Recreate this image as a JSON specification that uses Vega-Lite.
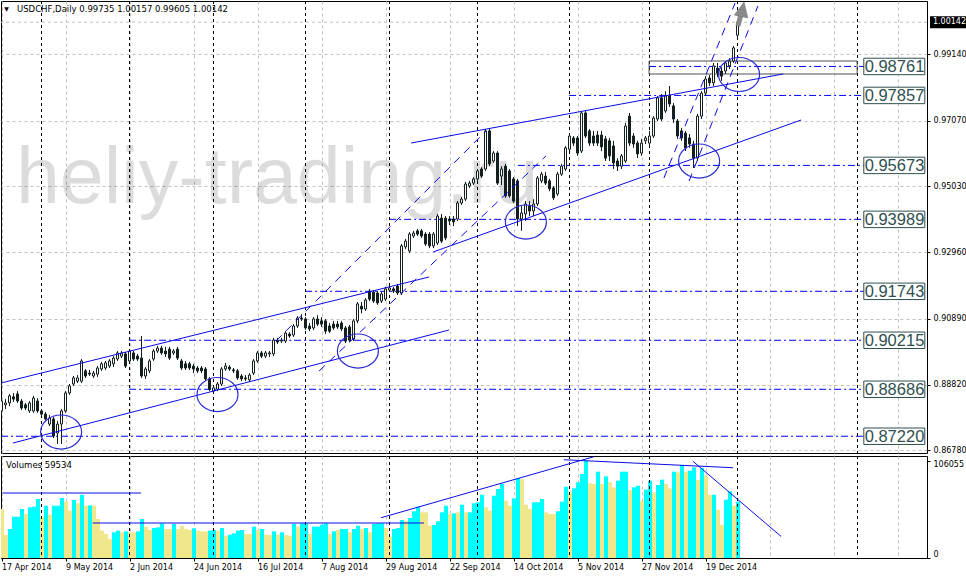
{
"$schema": "https://vega.github.io/schema/vega-lite/v6.json",
"padding": 0,
"background": "white",
"spacing": 3,
"bounds": "flush",
"config": {"view": {"stroke": "#000000", "strokeWidth": 1}, "scale": {"continuousPadding": 0}, "axis": {"labelFont": "DejaVu Sans", "labelFontSize": 8, "labelColor": "#000000", "tickColor": "#000000"}},
"datasets": {
"c": [
{"i":0,"o":0.8801,"h":0.8844,"l":0.8788,"c":0.8832},{"i":1,"o":0.8820,"h":0.8838,"l":0.8807,"c":0.8826},{"i":2,"o":0.8826,"h":0.8854,"l":0.8816,"c":0.8848},{"i":3,"o":0.8845,"h":0.8857,"l":0.8829,"c":0.8838},{"i":4,"o":0.8854,"h":0.8863,"l":0.8826,"c":0.8832},{"i":5,"o":0.8832,"h":0.8838,"l":0.8804,"c":0.8810},{"i":6,"o":0.8820,"h":0.8826,"l":0.8804,"c":0.8810},{"i":7,"o":0.8801,"h":0.8832,"l":0.8795,"c":0.8826},{"i":8,"o":0.8801,"h":0.8848,"l":0.8795,"c":0.8841},{"i":9,"o":0.8832,"h":0.8841,"l":0.8795,"c":0.8801},
{"i":10,"o":0.8801,"h":0.8807,"l":0.8785,"c":0.8791},{"i":11,"o":0.8791,"h":0.8798,"l":0.8770,"c":0.8776},{"i":12,"o":0.8760,"h":0.8788,"l":0.8754,"c":0.8779},{"i":13,"o":0.8776,"h":0.8782,"l":0.8716,"c":0.8723},{"i":14,"o":0.8732,"h":0.8770,"l":0.8698,"c":0.8760},{"i":15,"o":0.8760,"h":0.8807,"l":0.8698,"c":0.8801},{"i":16,"o":0.8801,"h":0.8863,"l":0.8795,"c":0.8857},{"i":17,"o":0.8857,"h":0.8885,"l":0.8851,"c":0.8879},{"i":18,"o":0.8885,"h":0.8910,"l":0.8879,"c":0.8904},{"i":19,"o":0.8894,"h":0.8913,"l":0.8888,"c":0.8904},
{"i":20,"o":0.8894,"h":0.8963,"l":0.8888,"c":0.8957},{"i":21,"o":0.8926,"h":0.8932,"l":0.8904,"c":0.8910},{"i":22,"o":0.8919,"h":0.8929,"l":0.8910,"c":0.8916},{"i":23,"o":0.8910,"h":0.8926,"l":0.8904,"c":0.8919},{"i":24,"o":0.8916,"h":0.8941,"l":0.8907,"c":0.8935},{"i":25,"o":0.8932,"h":0.8954,"l":0.8926,"c":0.8948},{"i":26,"o":0.8935,"h":0.8957,"l":0.8929,"c":0.8951},{"i":27,"o":0.8941,"h":0.8963,"l":0.8935,"c":0.8957},{"i":28,"o":0.8948,"h":0.8972,"l":0.8938,"c":0.8966},{"i":29,"o":0.8963,"h":0.8988,"l":0.8957,"c":0.8982},
{"i":30,"o":0.8972,"h":0.8988,"l":0.8966,"c":0.8982},{"i":31,"o":0.8979,"h":0.8985,"l":0.8935,"c":0.8941},{"i":32,"o":0.8957,"h":0.8994,"l":0.8951,"c":0.8988},{"i":33,"o":0.8982,"h":0.8988,"l":0.8957,"c":0.8963},{"i":34,"o":0.8972,"h":0.8979,"l":0.8957,"c":0.8963},{"i":35,"o":0.8966,"h":0.9035,"l":0.8904,"c":0.8910},{"i":36,"o":0.8910,"h":0.8938,"l":0.8901,"c":0.8932},{"i":37,"o":0.8926,"h":0.8963,"l":0.8919,"c":0.8957},{"i":38,"o":0.8963,"h":0.8994,"l":0.8957,"c":0.8988},{"i":39,"o":0.8988,"h":0.9004,"l":0.8982,"c":0.8997},
{"i":40,"o":0.8997,"h":0.9004,"l":0.8976,"c":0.8982},{"i":41,"o":0.8988,"h":0.9001,"l":0.8969,"c":0.8979},{"i":42,"o":0.8994,"h":0.9001,"l":0.8960,"c":0.8966},{"i":43,"o":0.8982,"h":0.8994,"l":0.8976,"c":0.8988},{"i":44,"o":0.8994,"h":0.9001,"l":0.8960,"c":0.8966},{"i":45,"o":0.8957,"h":0.8963,"l":0.8929,"c":0.8935},{"i":46,"o":0.8948,"h":0.8957,"l":0.8929,"c":0.8935},{"i":47,"o":0.8948,"h":0.8954,"l":0.8929,"c":0.8935},{"i":48,"o":0.8941,"h":0.8948,"l":0.8919,"c":0.8932},{"i":49,"o":0.8935,"h":0.8941,"l":0.8919,"c":0.8926},
{"i":50,"o":0.8935,"h":0.8941,"l":0.8919,"c":0.8926},{"i":51,"o":0.8932,"h":0.8938,"l":0.8894,"c":0.8901},{"i":52,"o":0.8901,"h":0.8907,"l":0.8863,"c":0.8869},{"i":53,"o":0.8863,"h":0.8879,"l":0.8857,"c":0.8873},{"i":54,"o":0.8869,"h":0.8891,"l":0.8863,"c":0.8885},{"i":55,"o":0.8885,"h":0.8938,"l":0.8879,"c":0.8932},{"i":56,"o":0.8932,"h":0.8951,"l":0.8926,"c":0.8941},{"i":57,"o":0.8938,"h":0.8944,"l":0.8926,"c":0.8932},{"i":58,"o":0.8929,"h":0.8935,"l":0.8919,"c":0.8926},{"i":59,"o":0.8926,"h":0.8932,"l":0.8898,"c":0.8904},
{"i":60,"o":0.8910,"h":0.8916,"l":0.8894,"c":0.8901},{"i":61,"o":0.8904,"h":0.8913,"l":0.8894,"c":0.8901},{"i":62,"o":0.8898,"h":0.8919,"l":0.8891,"c":0.8913},{"i":63,"o":0.8919,"h":0.8963,"l":0.8913,"c":0.8957},{"i":64,"o":0.8957,"h":0.8988,"l":0.8951,"c":0.8982},{"i":65,"o":0.8982,"h":0.8988,"l":0.8966,"c":0.8972},{"i":66,"o":0.8972,"h":0.8988,"l":0.8966,"c":0.8982},{"i":67,"o":0.8979,"h":0.8988,"l":0.8969,"c":0.8982},{"i":68,"o":0.8979,"h":0.9029,"l":0.8972,"c":0.9022},{"i":69,"o":0.9022,"h":0.9029,"l":0.9010,"c":0.9016},
{"i":70,"o":0.9019,"h":0.9029,"l":0.9013,"c":0.9022},{"i":71,"o":0.9019,"h":0.9050,"l":0.9013,"c":0.9044},{"i":72,"o":0.9041,"h":0.9047,"l":0.9029,"c":0.9035},{"i":73,"o":0.9038,"h":0.9072,"l":0.9032,"c":0.9066},{"i":74,"o":0.9066,"h":0.9097,"l":0.9060,"c":0.9091},{"i":75,"o":0.9091,"h":0.9103,"l":0.9082,"c":0.9088},{"i":76,"o":0.9088,"h":0.9094,"l":0.9054,"c":0.9060},{"i":77,"o":0.9066,"h":0.9075,"l":0.9050,"c":0.9057},{"i":78,"o":0.9060,"h":0.9094,"l":0.9054,"c":0.9088},{"i":79,"o":0.9088,"h":0.9100,"l":0.9066,"c":0.9072},
{"i":80,"o":0.9082,"h":0.9094,"l":0.9063,"c":0.9072},{"i":81,"o":0.9082,"h":0.9088,"l":0.9041,"c":0.9050},{"i":82,"o":0.9066,"h":0.9075,"l":0.9044,"c":0.9050},{"i":83,"o":0.9072,"h":0.9082,"l":0.9054,"c":0.9060},{"i":84,"o":0.9072,"h":0.9082,"l":0.9057,"c":0.9063},{"i":85,"o":0.9075,"h":0.9082,"l":0.9050,"c":0.9057},{"i":86,"o":0.9060,"h":0.9066,"l":0.9013,"c":0.9019},{"i":87,"o":0.9063,"h":0.9069,"l":0.9016,"c":0.9022},{"i":88,"o":0.9025,"h":0.9088,"l":0.9019,"c":0.9082},{"i":89,"o":0.9082,"h":0.9141,"l":0.9075,"c":0.9135},
{"i":90,"o":0.9128,"h":0.9141,"l":0.9106,"c":0.9119},{"i":91,"o":0.9119,"h":0.9153,"l":0.9113,"c":0.9147},{"i":92,"o":0.9175,"h":0.9182,"l":0.9144,"c":0.9150},{"i":93,"o":0.9172,"h":0.9178,"l":0.9138,"c":0.9144},{"i":94,"o":0.9169,"h":0.9175,"l":0.9132,"c":0.9138},{"i":95,"o":0.9144,"h":0.9172,"l":0.9138,"c":0.9166},{"i":96,"o":0.9150,"h":0.9188,"l":0.9144,"c":0.9182},{"i":97,"o":0.9178,"h":0.9191,"l":0.9172,"c":0.9185},{"i":98,"o":0.9182,"h":0.9188,"l":0.9169,"c":0.9175},{"i":99,"o":0.9191,"h":0.9197,"l":0.9163,"c":0.9169},
{"i":100,"o":0.9169,"h":0.9322,"l":0.9163,"c":0.9316},{"i":101,"o":0.9313,"h":0.9338,"l":0.9306,"c":0.9331},{"i":102,"o":0.9300,"h":0.9359,"l":0.9294,"c":0.9353},{"i":103,"o":0.9347,"h":0.9363,"l":0.9341,"c":0.9356},{"i":104,"o":0.9363,"h":0.9369,"l":0.9347,"c":0.9353},{"i":105,"o":0.9363,"h":0.9369,"l":0.9341,"c":0.9347},{"i":106,"o":0.9353,"h":0.9359,"l":0.9316,"c":0.9322},{"i":107,"o":0.9353,"h":0.9359,"l":0.9309,"c":0.9316},{"i":108,"o":0.9316,"h":0.9359,"l":0.9309,"c":0.9353},{"i":109,"o":0.9325,"h":0.9416,"l":0.9319,"c":0.9409},
{"i":110,"o":0.9403,"h":0.9416,"l":0.9325,"c":0.9331},{"i":111,"o":0.9403,"h":0.9409,"l":0.9334,"c":0.9341},{"i":112,"o":0.9400,"h":0.9409,"l":0.9381,"c":0.9394},{"i":113,"o":0.9400,"h":0.9409,"l":0.9378,"c":0.9391},{"i":114,"o":0.9400,"h":0.9456,"l":0.9394,"c":0.9450},{"i":115,"o":0.9450,"h":0.9469,"l":0.9444,"c":0.9462},{"i":116,"o":0.9462,"h":0.9516,"l":0.9456,"c":0.9509},{"i":117,"o":0.9503,"h":0.9519,"l":0.9497,"c":0.9512},{"i":118,"o":0.9512,"h":0.9531,"l":0.9506,"c":0.9525},{"i":119,"o":0.9525,"h":0.9556,"l":0.9519,"c":0.9550},
{"i":120,"o":0.9556,"h":0.9562,"l":0.9528,"c":0.9534},{"i":121,"o":0.9556,"h":0.9681,"l":0.9550,"c":0.9675},{"i":122,"o":0.9675,"h":0.9684,"l":0.9565,"c":0.9572},{"i":123,"o":0.9581,"h":0.9612,"l":0.9575,"c":0.9606},{"i":124,"o":0.9606,"h":0.9612,"l":0.9506,"c":0.9512},{"i":125,"o":0.9534,"h":0.9565,"l":0.9506,"c":0.9556},{"i":126,"o":0.9565,"h":0.9572,"l":0.9466,"c":0.9472},{"i":127,"o":0.9550,"h":0.9556,"l":0.9466,"c":0.9472},{"i":128,"o":0.9525,"h":0.9531,"l":0.9450,"c":0.9456},{"i":129,"o":0.9519,"h":0.9525,"l":0.9378,"c":0.9400},
{"i":130,"o":0.9400,"h":0.9441,"l":0.9363,"c":0.9419},{"i":131,"o":0.9416,"h":0.9456,"l":0.9394,"c":0.9447},{"i":132,"o":0.9441,"h":0.9456,"l":0.9409,"c":0.9425},{"i":133,"o":0.9425,"h":0.9462,"l":0.9409,"c":0.9447},{"i":134,"o":0.9447,"h":0.9534,"l":0.9441,"c":0.9528},{"i":135,"o":0.9519,"h":0.9547,"l":0.9512,"c":0.9540},{"i":136,"o":0.9534,"h":0.9547,"l":0.9506,"c":0.9512},{"i":137,"o":0.9519,"h":0.9525,"l":0.9487,"c":0.9494},{"i":138,"o":0.9497,"h":0.9503,"l":0.9459,"c":0.9466},{"i":139,"o":0.9478,"h":0.9547,"l":0.9472,"c":0.9540},
{"i":140,"o":0.9540,"h":0.9572,"l":0.9534,"c":0.9565},{"i":141,"o":0.9556,"h":0.9628,"l":0.9550,"c":0.9622},{"i":142,"o":0.9618,"h":0.9665,"l":0.9612,"c":0.9659},{"i":143,"o":0.9653,"h":0.9659,"l":0.9628,"c":0.9637},{"i":144,"o":0.9653,"h":0.9659,"l":0.9597,"c":0.9606},{"i":145,"o":0.9612,"h":0.9737,"l":0.9606,"c":0.9731},{"i":146,"o":0.9731,"h":0.9737,"l":0.9653,"c":0.9659},{"i":147,"o":0.9675,"h":0.9681,"l":0.9628,"c":0.9637},{"i":148,"o":0.9659,"h":0.9675,"l":0.9628,"c":0.9637},{"i":149,"o":0.9662,"h":0.9675,"l":0.9628,"c":0.9637},
{"i":150,"o":0.9662,"h":0.9675,"l":0.9612,"c":0.9625},{"i":151,"o":0.9650,"h":0.9659,"l":0.9581,"c":0.9590},{"i":152,"o":0.9644,"h":0.9653,"l":0.9581,"c":0.9597},{"i":153,"o":0.9628,"h":0.9644,"l":0.9556,"c":0.9575},{"i":154,"o":0.9581,"h":0.9590,"l":0.9550,"c":0.9565},{"i":155,"o":0.9565,"h":0.9603,"l":0.9556,"c":0.9597},{"i":156,"o":0.9581,"h":0.9700,"l":0.9575,"c":0.9690},{"i":157,"o":0.9721,"h":0.9731,"l":0.9628,"c":0.9637},{"i":158,"o":0.9659,"h":0.9668,"l":0.9622,"c":0.9634},{"i":159,"o":0.9637,"h":0.9644,"l":0.9590,"c":0.9603},
{"i":160,"o":0.9606,"h":0.9650,"l":0.9597,"c":0.9637},{"i":161,"o":0.9644,"h":0.9659,"l":0.9634,"c":0.9653},{"i":162,"o":0.9637,"h":0.9675,"l":0.9628,"c":0.9659},{"i":163,"o":0.9659,"h":0.9721,"l":0.9653,"c":0.9715},{"i":164,"o":0.9712,"h":0.9784,"l":0.9706,"c":0.9778},{"i":165,"o":0.9778,"h":0.9790,"l":0.9706,"c":0.9712},{"i":166,"o":0.9737,"h":0.9799,"l":0.9731,"c":0.9784},{"i":167,"o":0.9784,"h":0.9815,"l":0.9750,"c":0.9759},{"i":168,"o":0.9753,"h":0.9762,"l":0.9700,"c":0.9712},{"i":169,"o":0.9706,"h":0.9712,"l":0.9650,"c":0.9659},
{"i":170,"o":0.9675,"h":0.9684,"l":0.9644,"c":0.9653},{"i":171,"o":0.9668,"h":0.9675,"l":0.9612,"c":0.9622},{"i":172,"o":0.9653,"h":0.9665,"l":0.9622,"c":0.9634},{"i":173,"o":0.9634,"h":0.9644,"l":0.9559,"c":0.9590},{"i":174,"o":0.9590,"h":0.9728,"l":0.9581,"c":0.9721},{"i":175,"o":0.9721,"h":0.9799,"l":0.9712,"c":0.9793},{"i":176,"o":0.9793,"h":0.9846,"l":0.9784,"c":0.9837},{"i":177,"o":0.9840,"h":0.9849,"l":0.9815,"c":0.9825},{"i":178,"o":0.9825,"h":0.9887,"l":0.9815,"c":0.9878},{"i":179,"o":0.9871,"h":0.9887,"l":0.9843,"c":0.9856},
{"i":180,"o":0.9862,"h":0.9874,"l":0.9831,"c":0.9846},{"i":181,"o":0.9862,"h":0.9893,"l":0.9853,"c":0.9887},{"i":182,"o":0.9878,"h":0.9902,"l":0.9868,"c":0.9893},{"i":183,"o":0.9893,"h":0.9940,"l":0.9887,"c":0.9934},{"i":184,"o":0.99735,"h":1.00157,"l":0.99605,"c":1.00142}
],
"v": [
{"i":0,"v":53400,"u":0},{"i":1,"v":25100,"u":0},{"i":2,"v":31600,"u":1},{"i":3,"v":45000,"u":1},{"i":4,"v":45000,"u":1},{"i":5,"v":53400,"u":1},{"i":6,"v":48000,"u":0},{"i":7,"v":55200,"u":1},{"i":8,"v":55900,"u":1},{"i":9,"v":64300,"u":1},
{"i":10,"v":45000,"u":0},{"i":11,"v":57000,"u":1},{"i":12,"v":47200,"u":0},{"i":13,"v":57000,"u":1},{"i":14,"v":57000,"u":1},{"i":15,"v":65400,"u":1},{"i":16,"v":61400,"u":0},{"i":17,"v":51600,"u":0},{"i":18,"v":63200,"u":1},{"i":19,"v":59600,"u":0},
{"i":20,"v":69000,"u":1},{"i":21,"v":57000,"u":0},{"i":22,"v":57300,"u":1},{"i":23,"v":57000,"u":0},{"i":24,"v":42500,"u":0},{"i":25,"v":29800,"u":0},{"i":26,"v":26200,"u":0},{"i":27,"v":20700,"u":0},{"i":28,"v":28000,"u":1},{"i":29,"v":29800,"u":1},
{"i":30,"v":28000,"u":0},{"i":31,"v":29100,"u":1},{"i":32,"v":28000,"u":0},{"i":33,"v":28000,"u":0},{"i":34,"v":29100,"u":1},{"i":35,"v":42500,"u":1},{"i":36,"v":34200,"u":0},{"i":37,"v":30500,"u":0},{"i":38,"v":32700,"u":1},{"i":39,"v":33400,"u":1},
{"i":40,"v":37800,"u":1},{"i":41,"v":31600,"u":0},{"i":42,"v":31600,"u":0},{"i":43,"v":37100,"u":1},{"i":44,"v":31600,"u":0},{"i":45,"v":35200,"u":0},{"i":46,"v":31600,"u":0},{"i":47,"v":30500,"u":0},{"i":48,"v":32300,"u":1},{"i":49,"v":29800,"u":0},
{"i":50,"v":29100,"u":0},{"i":51,"v":29100,"u":0},{"i":52,"v":29800,"u":1},{"i":53,"v":30500,"u":1},{"i":54,"v":29800,"u":0},{"i":55,"v":32700,"u":1},{"i":56,"v":24300,"u":0},{"i":57,"v":25400,"u":1},{"i":58,"v":26900,"u":1},{"i":59,"v":29800,"u":1},
{"i":60,"v":30500,"u":1},{"i":61,"v":26200,"u":0},{"i":62,"v":26200,"u":0},{"i":63,"v":34200,"u":1},{"i":64,"v":30500,"u":0},{"i":65,"v":31600,"u":1},{"i":66,"v":25400,"u":0},{"i":67,"v":25100,"u":0},{"i":68,"v":29100,"u":1},{"i":69,"v":25400,"u":0},
{"i":70,"v":28000,"u":1},{"i":71,"v":25100,"u":0},{"i":72,"v":24300,"u":0},{"i":73,"v":37100,"u":1},{"i":74,"v":34200,"u":0},{"i":75,"v":37800,"u":1},{"i":76,"v":37800,"u":1},{"i":77,"v":26200,"u":0},{"i":78,"v":34200,"u":1},{"i":79,"v":34200,"u":1},
{"i":80,"v":36300,"u":1},{"i":81,"v":37800,"u":1},{"i":82,"v":26200,"u":0},{"i":83,"v":29100,"u":1},{"i":84,"v":30500,"u":0},{"i":85,"v":31600,"u":1},{"i":86,"v":31600,"u":1},{"i":87,"v":28000,"u":0},{"i":88,"v":31600,"u":1},{"i":89,"v":35200,"u":1},
{"i":90,"v":31600,"u":0},{"i":91,"v":32700,"u":1},{"i":92,"v":28000,"u":0},{"i":93,"v":37100,"u":1},{"i":94,"v":37800,"u":1},{"i":95,"v":37800,"u":1},{"i":96,"v":32700,"u":0},{"i":97,"v":23300,"u":0},{"i":98,"v":31600,"u":1},{"i":99,"v":32700,"u":1},
{"i":100,"v":41400,"u":1},{"i":101,"v":40700,"u":0},{"i":102,"v":43600,"u":1},{"i":103,"v":50900,"u":1},{"i":104,"v":55900,"u":1},{"i":105,"v":49800,"u":0},{"i":106,"v":49800,"u":0},{"i":107,"v":35200,"u":0},{"i":108,"v":36000,"u":1},{"i":109,"v":40000,"u":1},
{"i":110,"v":49800,"u":1},{"i":111,"v":57000,"u":1},{"i":112,"v":48000,"u":0},{"i":113,"v":48700,"u":1},{"i":114,"v":49800,"u":0},{"i":115,"v":58100,"u":1},{"i":116,"v":49800,"u":0},{"i":117,"v":49800,"u":1},{"i":118,"v":59600,"u":1},{"i":119,"v":60700,"u":1},
{"i":120,"v":69000,"u":1},{"i":121,"v":55200,"u":0},{"i":122,"v":51600,"u":0},{"i":123,"v":67900,"u":1},{"i":124,"v":75200,"u":1},{"i":125,"v":80700,"u":1},{"i":126,"v":62500,"u":0},{"i":127,"v":57000,"u":0},{"i":128,"v":65000,"u":1},{"i":129,"v":87200,"u":1},
{"i":130,"v":86000,"u":0},{"i":131,"v":58100,"u":0},{"i":132,"v":53400,"u":0},{"i":133,"v":60700,"u":1},{"i":134,"v":60700,"u":1},{"i":135,"v":64300,"u":1},{"i":136,"v":49800,"u":0},{"i":137,"v":48000,"u":0},{"i":138,"v":48000,"u":0},{"i":139,"v":50900,"u":1},
{"i":140,"v":61400,"u":1},{"i":141,"v":77700,"u":1},{"i":142,"v":72700,"u":0},{"i":143,"v":75900,"u":1},{"i":144,"v":82500,"u":1},{"i":145,"v":91600,"u":1},{"i":146,"v":106055,"u":1},{"i":147,"v":81400,"u":0},{"i":148,"v":80700,"u":0},{"i":149,"v":94100,"u":1},
{"i":150,"v":80700,"u":0},{"i":151,"v":89000,"u":1},{"i":152,"v":82500,"u":0},{"i":153,"v":77000,"u":0},{"i":154,"v":84300,"u":1},{"i":155,"v":94100,"u":1},{"i":156,"v":94100,"u":1},{"i":157,"v":74100,"u":0},{"i":158,"v":77000,"u":1},{"i":159,"v":78800,"u":1},
{"i":160,"v":62500,"u":0},{"i":161,"v":74500,"u":1},{"i":162,"v":84300,"u":1},{"i":163,"v":71600,"u":0},{"i":164,"v":79600,"u":1},{"i":165,"v":85400,"u":1},{"i":166,"v":80700,"u":0},{"i":167,"v":75900,"u":0},{"i":168,"v":94100,"u":1},{"i":169,"v":93400,"u":0},
{"i":170,"v":101400,"u":1},{"i":171,"v":94100,"u":0},{"i":172,"v":95200,"u":1},{"i":173,"v":98800,"u":1},{"i":174,"v":85000,"u":0},{"i":175,"v":98100,"u":1},{"i":176,"v":89700,"u":0},{"i":177,"v":68700,"u":0},{"i":178,"v":69000,"u":1},{"i":179,"v":52700,"u":0},
{"i":180,"v":36000,"u":0},{"i":181,"v":63600,"u":1},{"i":182,"v":72700,"u":1},{"i":183,"v":57000,"u":0},{"i":184,"v":61400,"u":1}
],
"sep": [{"i":10},{"i":32},{"i":53},{"i":76},{"i":97},{"i":119},{"i":142},{"i":162},{"i":184},{"i":214}],
"lv": [
{"p":0.98761,"s":161.9,"lab":"0.98761"},{"p":0.97857,"s":141.9,"lab":"0.97857"},{"p":0.95673,"s":129.1,"lab":"0.95673"},{"p":0.93989,"s":96.9,"lab":"0.93989"},
{"p":0.91743,"s":75.9,"lab":"0.91743"},{"p":0.90215,"s":31.9,"lab":"0.90215"},{"p":0.88686,"s":31.9,"lab":"0.88686"},{"p":0.8722,"s":-0.125,"lab":"0.87220"}
],
"tl": [
{"a":2.875,"pa":0.87009,"b":111.9,"pb":0.90536,"k":"s"},
{"a":-0.125,"pa":0.88881,"b":106.9,"pb":0.9219,"k":"s"},
{"a":107.9,"pa":0.9297,"b":199.9,"pb":0.9709,"k":"s"},
{"a":102.4,"pa":0.96372,"b":195.4,"pb":0.98526,"k":"s"},
{"a":68.6,"pa":0.90192,"b":121.1,"pb":0.96746,"k":"d"},
{"a":79.4,"pa":0.89256,"b":136.1,"pb":0.95966,"k":"d"},
{"a":165.6,"pa":0.9528,"b":183.4,"pb":1.0074,"k":"d"},
{"a":171.9,"pa":0.95186,"b":189.1,"pb":1.00648,"k":"d"}
],
"el": [{"x":14.9,"p":0.87352},{"x":54,"p":0.88522},{"x":89.1,"p":0.8988},{"x":131.1,"p":0.93906},{"x":174.4,"p":0.9581},{"x":184.4,"p":0.9851}],
"vl": [
{"a":0.3,"va":70850,"b":34.9,"vb":70850},
{"a":22.8,"va":38150,"b":105.6,"vb":38150},
{"a":94.9,"va":43900,"b":148.1,"vb":110400},
{"a":140.6,"va":107100,"b":182.9,"vb":98400},
{"a":172.9,"va":105300,"b":194.9,"vb":23500}
]
},
"vconcat": [
{
"width": 926,
"height": 452,
"layer": [
{
"data": {"values": [{"t": "heliy-trading.ru"}]},
"mark": {"type": "text", "font": "Liberation Sans", "fontSize": 79, "align": "left", "baseline": "alphabetic", "color": "#000000", "opacity": 0.135},
"encoding": {
"x": {"datum": 3.6, "type": "quantitative", "title": null, "scale": {"domain": [-0.125, 231.375], "nice": false, "zero": false, "padding": 0},
"axis": {"orient": "bottom", "title": null, "values": [0,8,16,24,32,40,48,56,64,72,80,88,96,104,112,120,128,136,144,152,160,168,176,184,192,200,208,216,224], "labels": false, "ticks": false, "domain": false, "grid": true, "gridColor": "#c0c0c0", "gridDash": [3,3], "minExtent": 0, "maxExtent": 0}},
"y": {"datum": 0.945, "type": "quantitative", "title": null, "scale": {"domain": [0.86697, 1.00804], "nice": false, "zero": false, "padding": 0},
"axis": {"orient": "right", "title": null, "values": [0.9914,0.9812,0.9707,0.9605,0.9503,0.9398,0.9296,0.9194,0.9089,0.8987,0.8882,0.878,0.8678], "format": ".5f", "grid": true, "gridColor": "#c0c0c0", "gridDash": [3,3], "domain": false, "tickSize": 3, "labelPadding": 3, "labelBaseline": "middle"}},
"text": {"field": "t"}
}
},
{
"data": {"values": [{"p": 1.00142}]},
"mark": {"type": "rule", "color": "#c0c0c0", "strokeDash": [3,3]},
"encoding": {"y": {"field": "p", "type": "quantitative", "title": null, "scale": {"domain": [0.86697, 1.00804], "nice": false, "zero": false, "padding": 0}}}
},
{
"data": {"name": "lv"},
"mark": {"type": "rule", "color": "#0000ff", "strokeWidth": 1, "strokeDash": [7,3,2,3], "clip": true},
"encoding": {
"x": {"field": "s", "type": "quantitative", "title": null, "scale": {"domain": [-0.125, 231.375], "nice": false, "zero": false, "padding": 0}},
"x2": {"datum": 215.6},
"y": {"field": "p", "type": "quantitative", "title": null, "scale": {"domain": [0.86697, 1.00804], "nice": false, "zero": false, "padding": 0}}
}
},
{
"data": {"name": "sep"},
"mark": {"type": "rule", "color": "#000000", "strokeDash": [3,3]},
"encoding": {"x": {"field": "i", "type": "quantitative", "title": null, "scale": {"domain": [-0.125, 231.375], "nice": false, "zero": false, "padding": 0}}}
},
{
"data": {"values": [{"a": 161.9, "b": 213.9, "lo": 0.98526, "hi": 0.98931}]},
"mark": {"type": "rect", "fillOpacity": 0, "stroke": "#505050", "strokeWidth": 1},
"encoding": {
"x": {"field": "a", "type": "quantitative", "title": null, "scale": {"domain": [-0.125, 231.375], "nice": false, "zero": false, "padding": 0}},
"x2": {"field": "b"},
"y": {"field": "lo", "type": "quantitative", "title": null, "scale": {"domain": [0.86697, 1.00804], "nice": false, "zero": false, "padding": 0}},
"y2": {"field": "hi"}
}
},
{
"data": {"name": "c"},
"mark": {"type": "rule", "color": "#142020", "strokeWidth": 1, "clip": true},
"encoding": {
"x": {"field": "i", "type": "quantitative", "title": null, "scale": {"domain": [-0.125, 231.375], "nice": false, "zero": false, "padding": 0}},
"y": {"field": "l", "type": "quantitative", "title": null, "scale": {"domain": [0.86697, 1.00804], "nice": false, "zero": false, "padding": 0}},
"y2": {"field": "h"}
}
},
{
"data": {"name": "c"},
"mark": {"type": "bar", "width": 2, "stroke": "#142020", "strokeWidth": 1, "clip": true},
"encoding": {
"x": {"field": "i", "type": "quantitative", "title": null, "scale": {"domain": [-0.125, 231.375], "nice": false, "zero": false, "padding": 0}},
"y": {"field": "o", "type": "quantitative", "title": null, "scale": {"domain": [0.86697, 1.00804], "nice": false, "zero": false, "padding": 0}},
"y2": {"field": "c"},
"fill": {"condition": {"test": "datum.c >= datum.o", "value": "#ffffff"}, "value": "#142020"}
}
},
{
"data": {"name": "tl"},
"transform": [{"filter": "datum.k == 's'"}],
"mark": {"type": "rule", "color": "#0a0ae6", "strokeWidth": 1, "clip": true},
"encoding": {
"x": {"field": "a", "type": "quantitative", "title": null, "scale": {"domain": [-0.125, 231.375], "nice": false, "zero": false, "padding": 0}},
"x2": {"field": "b"},
"y": {"field": "pa", "type": "quantitative", "title": null, "scale": {"domain": [0.86697, 1.00804], "nice": false, "zero": false, "padding": 0}},
"y2": {"field": "pb"}
}
},
{
"data": {"name": "tl"},
"transform": [{"filter": "datum.k == 'd'"}],
"mark": {"type": "rule", "color": "#0a0ae6", "strokeWidth": 1, "strokeDash": [8,6], "clip": true},
"encoding": {
"x": {"field": "a", "type": "quantitative", "title": null, "scale": {"domain": [-0.125, 231.375], "nice": false, "zero": false, "padding": 0}},
"x2": {"field": "b"},
"y": {"field": "pa", "type": "quantitative", "title": null, "scale": {"domain": [0.86697, 1.00804], "nice": false, "zero": false, "padding": 0}},
"y2": {"field": "pb"}
}
},
{
"data": {"name": "el"},
"mark": {"type": "point", "shape": "M-1,0A1,0.83,0,1,0,1,0A1,0.83,0,1,0,-1,0Z", "size": 1681, "filled": false, "stroke": "#2a2ad6", "strokeWidth": 1.2, "opacity": 1},
"encoding": {
"x": {"field": "x", "type": "quantitative", "title": null, "scale": {"domain": [-0.125, 231.375], "nice": false, "zero": false, "padding": 0}},
"y": {"field": "p", "type": "quantitative", "title": null, "scale": {"domain": [0.86697, 1.00804], "nice": false, "zero": false, "padding": 0}}
}
},
{
"data": {"values": [{"a": 184.1, "pa": 1.0002, "b": 184.9, "pb": 1.004}]},
"mark": {"type": "rule", "color": "#8a8a8a", "strokeWidth": 5},
"encoding": {
"x": {"field": "a", "type": "quantitative", "title": null, "scale": {"domain": [-0.125, 231.375], "nice": false, "zero": false, "padding": 0}},
"x2": {"field": "b"},
"y": {"field": "pa", "type": "quantitative", "title": null, "scale": {"domain": [0.86697, 1.00804], "nice": false, "zero": false, "padding": 0}},
"y2": {"field": "pb"}
}
},
{
"data": {"values": [{"t": "up"}]},
"mark": {"type": "point", "shape": "M0,-1L0.8,0.7L-0.8,0.7Z", "size": 300, "angle": 12, "filled": true, "fill": "#8a8a8a", "stroke": "#777777", "strokeWidth": 0.5, "opacity": 1},
"encoding": {
"x": {"datum": 185.2, "type": "quantitative", "title": null, "scale": {"domain": [-0.125, 231.375], "nice": false, "zero": false, "padding": 0}},
"y": {"datum": 1.00507, "type": "quantitative", "title": null, "scale": {"domain": [0.86697, 1.00804], "nice": false, "zero": false, "padding": 0}}
}
},
{
"data": {"name": "lv"},
"mark": {"type": "point", "shape": "M-1,-0.27L1,-0.27L1,0.27L-1,0.27Z", "size": 3721, "filled": true, "fill": "#ffffff", "stroke": "#2f4f4f", "strokeWidth": 1, "opacity": 1},
"encoding": {
"x": {"datum": 223.2, "type": "quantitative", "title": null, "scale": {"domain": [-0.125, 231.375], "nice": false, "zero": false, "padding": 0}},
"y": {"field": "p", "type": "quantitative", "title": null, "scale": {"domain": [0.86697, 1.00804], "nice": false, "zero": false, "padding": 0}}
}
},
{
"data": {"name": "lv"},
"mark": {"type": "text", "font": "Liberation Sans", "fontSize": 16.5, "align": "center", "baseline": "middle", "dy": 1, "color": "#2f4f4f"},
"encoding": {
"x": {"datum": 223.25, "type": "quantitative", "title": null, "scale": {"domain": [-0.125, 231.375], "nice": false, "zero": false, "padding": 0}},
"y": {"field": "p", "type": "quantitative", "title": null, "scale": {"domain": [0.86697, 1.00804], "nice": false, "zero": false, "padding": 0}},
"text": {"field": "lab"}
}
},
{
"data": {"values": [{"t": "USDCHF,Daily  0.99735 1.00157 0.99605 1.00142"}]},
"mark": {"type": "text", "font": "DejaVu Sans", "fontSize": 8.5, "align": "left", "baseline": "middle", "color": "#000000"},
"encoding": {
"x": {"datum": 3.875, "type": "quantitative", "title": null, "scale": {"domain": [-0.125, 231.375], "nice": false, "zero": false, "padding": 0}},
"y": {"datum": 1.00554, "type": "quantitative", "title": null, "scale": {"domain": [0.86697, 1.00804], "nice": false, "zero": false, "padding": 0}},
"text": {"field": "t"}
}
},
{
"data": {"values": [{"t": "▼"}]},
"mark": {"type": "text", "font": "DejaVu Sans", "fontSize": 6, "align": "center", "baseline": "middle", "color": "#000000"},
"encoding": {
"x": {"datum": 1.25, "type": "quantitative", "title": null, "scale": {"domain": [-0.125, 231.375], "nice": false, "zero": false, "padding": 0}},
"y": {"datum": 1.00554, "type": "quantitative", "title": null, "scale": {"domain": [0.86697, 1.00804], "nice": false, "zero": false, "padding": 0}},
"text": {"field": "t"}
}
},
{
"data": {"values": [{"p": 1.00142, "t": "1.00142"}]},
"mark": {"type": "point", "shape": "M-1,-0.32L1,-0.32L1,0.32L-1,0.32Z", "size": 1369, "filled": true, "fill": "#000000", "opacity": 1},
"encoding": {
"x": {"datum": 236.75, "type": "quantitative", "title": null, "scale": {"domain": [-0.125, 231.375], "nice": false, "zero": false, "padding": 0}},
"y": {"field": "p", "type": "quantitative", "title": null, "scale": {"domain": [0.86697, 1.00804], "nice": false, "zero": false, "padding": 0}}
}
},
{
"data": {"values": [{"p": 1.00142, "t": "1.00142"}]},
"mark": {"type": "text", "font": "DejaVu Sans", "fontSize": 8, "align": "center", "baseline": "middle", "color": "#ffffff"},
"encoding": {
"x": {"datum": 237.0, "type": "quantitative", "title": null, "scale": {"domain": [-0.125, 231.375], "nice": false, "zero": false, "padding": 0}},
"y": {"field": "p", "type": "quantitative", "title": null, "scale": {"domain": [0.86697, 1.00804], "nice": false, "zero": false, "padding": 0}},
"text": {"field": "t"}
}
}
]
},
{
"width": 926,
"height": 102,
"layer": [
{
"data": {"name": "v"},
"mark": {"type": "bar", "width": 4, "xOffset": 0.5, "clip": true},
"encoding": {
"x": {"field": "i", "type": "quantitative", "title": null, "scale": {"domain": [-0.125, 231.375], "nice": false, "zero": false, "padding": 0},
"axis": {"orient": "bottom", "title": null, "values": [0,8,16,24,32,40,48,56,64,72,80,88,96,104,112,120,128,136,144,152,160,168,176,184,192,200,208,216,224],
"labelExpr": "(datum.value % 16 == 0 && datum.value <= 176) ? ['17 Apr 2014','9 May 2014','2 Jun 2014','24 Jun 2014','16 Jul 2014','7 Aug 2014','29 Aug 2014','22 Sep 2014','14 Oct 2014','5 Nov 2014','27 Nov 2014','19 Dec 2014'][datum.value / 16] : ''",
"grid": true, "gridColor": "#c0c0c0", "gridDash": [3,3], "domain": false, "tickSize": 3,
"tickOpacity": {"condition": {"test": "datum.value % 16 != 0 || datum.value > 176", "value": 0}, "value": 1},
"labelAlign": "left", "labelBaseline": "top", "labelPadding": 2, "labelFlush": false, "labelOverlap": false}},
"y": {"field": "v", "type": "quantitative", "title": null, "scale": {"domain": [0, 111180], "nice": false, "zero": true, "padding": 0},
"axis": {"orient": "right", "title": null, "values": [0, 106055], "format": "d", "grid": false, "domain": false, "tickSize": 3, "labelPadding": 3,
"labelBaseline": {"condition": {"test": "datum.value == 0", "value": "bottom"}, "value": "top"}}},
"color": {"field": "u", "type": "nominal", "scale": {"domain": [0, 1], "range": ["#F0E68C", "#00FFFF"]}, "legend": null}
}
},
{
"data": {"name": "sep"},
"mark": {"type": "rule", "color": "#000000", "strokeDash": [3,3]},
"encoding": {"x": {"field": "i", "type": "quantitative", "title": null, "scale": {"domain": [-0.125, 231.375], "nice": false, "zero": false, "padding": 0}}}
},
{
"data": {"name": "vl"},
"mark": {"type": "rule", "color": "#0a0ae6", "strokeWidth": 1, "clip": true},
"encoding": {
"x": {"field": "a", "type": "quantitative", "title": null, "scale": {"domain": [-0.125, 231.375], "nice": false, "zero": false, "padding": 0}},
"x2": {"field": "b"},
"y": {"field": "va", "type": "quantitative", "title": null, "scale": {"domain": [0, 111180], "nice": false, "zero": true, "padding": 0}},
"y2": {"field": "vb"}
}
},
{
"data": {"values": [{"t": "Volumes 59534"}]},
"mark": {"type": "text", "font": "DejaVu Sans", "fontSize": 8.5, "align": "left", "baseline": "middle", "color": "#000000"},
"encoding": {
"x": {"datum": 1.125, "type": "quantitative", "title": null, "scale": {"domain": [-0.125, 231.375], "nice": false, "zero": false, "padding": 0}},
"y": {"datum": 101150, "type": "quantitative", "title": null, "scale": {"domain": [0, 111180], "nice": false, "zero": true, "padding": 0}},
"text": {"field": "t"}
}
}
]
}
]
}
